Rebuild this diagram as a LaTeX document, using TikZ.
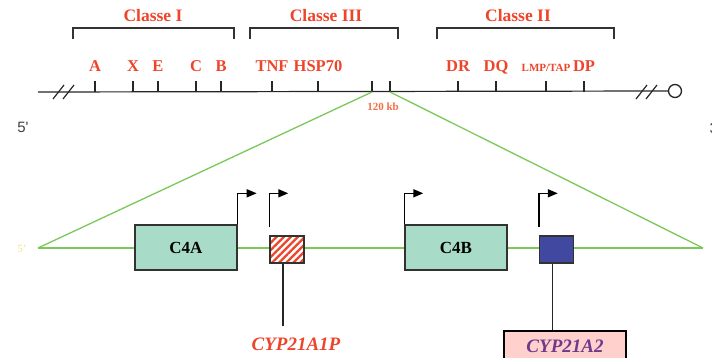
\documentclass[tikz,border=0pt]{standalone}
\usepackage{fontspec}
\setmainfont{Liberation Serif}
\newfontfamily\arialf{Liberation Sans}
\usetikzlibrary{arrows.meta,patterns.meta}
\definecolor{labred}{RGB}{238,68,42}
\definecolor{kbred}{RGB}{240,110,70}
\definecolor{lgreen}{RGB}{122,200,90}
\definecolor{teal}{RGB}{168,220,200}
\definecolor{gblue}{RGB}{64,72,160}
\definecolor{pinkbox}{RGB}{255,208,204}
\definecolor{purp}{RGB}{110,58,140}
\definecolor{yel}{RGB}{240,228,140}
\definecolor{edge}{RGB}{50,50,50}
\tikzset{
  ticklab/.style={text=labred,font=\fontsize{16.5}{16}\selectfont\bfseries,anchor=base},
  classlab/.style={text=labred,font=\fontsize{17.5}{17}\selectfont\bfseries},
  bracket/.style={draw=black!80,line width=1.2pt},
  tickline/.style={draw=black!85,line width=1.2pt},
  gline/.style={draw=lgreen,line width=1.3pt},
  genebox/.style={draw=edge,line width=1.4pt,fill=teal,minimum width=102pt,minimum height=45pt,font=\fontsize{17}{17}\selectfont\bfseries,inner sep=0pt},
  smallbox/.style={draw=edge,line width=1.4pt,minimum width=34pt,minimum height=27pt,inner sep=0pt},
  prom/.style={draw=black,line width=1.5pt,-{Triangle[length=10pt,width=8pt]}},
  stem/.style={draw=black!85,line width=1.3pt},
}
\begin{document}
\begin{tikzpicture}[x=1pt,y=-1pt]
\useasboundingbox (0,0) rectangle (712,358);
% chromosome line
\coordinate (L) at (38,92);
\node[draw=black!85,line width=1.3pt,circle,minimum size=13pt,inner sep=0pt] (tel) at (675,91) {};
\draw[tickline] (L) -- (tel.west);
\draw[tickline] (53,99) -- (64,85);
\draw[tickline] (63,99) -- (74,85);
\draw[tickline] (636,99) -- (647,85);
\draw[tickline] (646,99) -- (657,85);
% ticks
\foreach \x/\n in {95/A,133/X,158/E,196/C,221/B,272/TNF,318/HSP,372/T1,390/T2,458/DR,496/DQ,546/LMP,584/DP}{
  \coordinate (t\n) at (\x,92);
  \draw[tickline] (t\n) -- ++(0,-11);
}
\foreach \n/\t in {A/A,X/X,E/E,C/C,B/B,TNF/TNF,HSP/HSP70,DR/DR,DQ/DQ,DP/DP}{
  \node[ticklab] (l\n) at ([yshift=20pt]t\n) {\t};
}
\node[text=labred,font=\fontsize{11}{11}\selectfont\bfseries,anchor=base] (lLMP) at ([yshift=20pt]tLMP) {LMP/TAP};
% brackets
\draw[bracket] (73,39) -- (73,28) -- (234,28) -- (234,39);
\draw[bracket] (250,39) -- (250,28) -- (398,28) -- (398,39);
\draw[bracket] (437,39) -- (437,28) -- (614,28) -- (614,39);
\node[classlab] (c1) at (153,16) {Classe I};
\node[classlab] (c3) at (326,16) {Classe III};
\node[classlab] (c2) at (518,16) {Classe II};
\node[text=kbred,font=\fontsize{11}{11}\selectfont\bfseries] (kb) at (383,107) {120 kb};
% side labels
\node[text=black!75,font=\arialf\fontsize{15}{15}\selectfont] (five) at (23,127) {5'};
\node[text=black!75,font=\arialf\fontsize{15}{15}\selectfont,anchor=west] (three) at (706,128) {3'};
% zoom region
\coordinate (zl) at (38,248);
\coordinate (zr) at (703,248);
\node[text=yel,font=\fontsize{11}{11}\selectfont] (five2) at (22,249) {5'};
\draw[gline] (tT1) -- (zl);
\draw[gline] (tT2) -- (zr);
% genes
\node[genebox] (c4a) at (186,247.5) {C4A};
\node[genebox] (c4b) at (456,247.5) {C4B};
\draw[gline] (zl) -- (c4a.west |- zl);
\draw[gline] (c4a.east |- zl) -- (c4b.west |- zl);
\draw[gline] (c4b.east |- zl) -- (zr);
\node[smallbox,fill=white] (p1) at (287,249.5) {};
\fill[pattern={Lines[angle=45,distance=5pt,line width=2.3pt]},pattern color=labred] (p1.south west) rectangle (p1.north east);
\node[smallbox] at (p1) {};
\node[smallbox,fill=gblue] (p2) at (556.5,249.5) {};
% promoter arrows
\draw[prom] (c4a.north east) -- ++(0,-31) -- ++(19,0);
\draw[prom] ([yshift=8pt]p1.north west) -- ++(0,-34) -- ++(19,0);
\draw[prom] (c4b.north west) -- ++(0,-31) -- ++(19,0);
\draw[prom] ([yshift=8pt]p2.north west) -- ++(0,-34) -- ++(19,0);
% labels
\node[text=labred,font=\fontsize{19}{19}\selectfont\bfseries\itshape] (n1) at (296,344) {CYP21A1P};
\node[draw=black,line width=1.5pt,fill=pinkbox,minimum width=122pt,minimum height=32pt,anchor=north,text=purp,font=\fontsize{19}{19}\selectfont\bfseries\itshape] (n2) at (565,330) {CYP21A2};
\draw[stem] ([xshift=-4pt]p1.south) -- ([xshift=-4pt]p1.south |- 0,326);
\draw[stem] ([xshift=-4pt]p2.south) -- ([xshift=-4pt]p2.south |- n2.north);
\end{tikzpicture}
\end{document}
